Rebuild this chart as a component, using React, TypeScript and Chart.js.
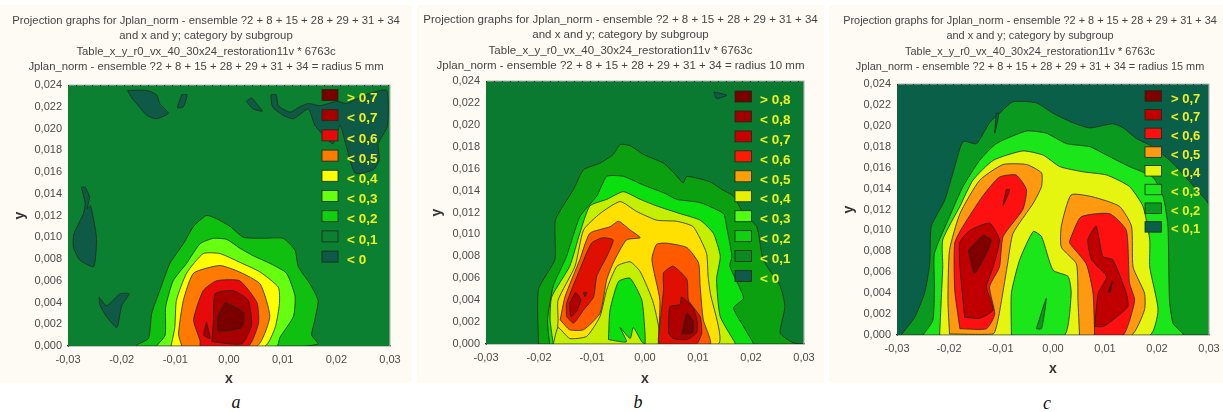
import React, { useEffect, useRef } from "react";
import { Chart, registerables } from "chart.js";

Chart.register(...registerables);

type Pair = number[];
// All contour vertices are [x, y], in thousandths of the axis unit.
const FULL: Pair[] = [[-30, 0], [30, 0], [30, 24], [-30, 24]];

// Panel a (radius 5 mm)
const A_NEG_1: Pair[] = [[-18.9,23.5],[-15.3,23.5],[-13.5,23.1],[-12.9,22.3],[-11.3,21.4],[-13.5,20.9],[-15.3,21.2],[-16.9,22.1],[-18.1,22.8]];
const A_NEG_2: Pair[] = [[-8.8,23.1],[-7.8,23.1],[-8.5,22.0],[-9.6,21.9]];
const A_NEG_3: Pair[] = [[3.2,22.5],[4.2,22.8],[5.1,22.3],[6.2,21.6],[4.5,21.8]];
const A_NEG_4: Pair[] = [[7.8,23.1],[8.8,23.1],[9.2,22.1],[11.4,21.5],[13.2,22],[14.8,22.3],[17,22.1],[20.1,22.5],[21.9,22.3],[26,23.2],[29.4,23.5],[29.5,20.2],[27.8,18.6],[28,17.1],[26.9,16.2],[23.5,15.9],[21.9,18.3],[20.7,20.3],[19.4,18.6],[18.5,18.9],[16,20.3],[14.8,21.8],[12,20.9],[10.1,21.2],[8.1,22]];
const A_NEG_5: Pair[] = [[-27.5,14.6],[-26.8,14.6],[-26,13.7],[-26.4,12.6],[-25.8,12.9],[-24.7,10],[-25.2,7.3],[-27.8,7.9],[-29,9.1],[-28.9,10.3],[-27.1,12.2],[-26.8,13.1]];
const A_NEG_6: Pair[] = [[-24.2,4.5],[-22.8,3.7],[-20.3,4.8],[-18.6,4.8],[-20,3.7],[-20.9,1.7],[-22.8,2.7],[-24,3.7]];
const A_L02: Pair[] = [[-17.2,0],[-17.2,0.1],[-15,0.7],[-14.4,3],[-12.9,5.1],[-11,7.6],[-8.5,9.4],[-6.6,11],[-4.2,12],[-2.3,11.7],[0.2,11],[2.7,10],[6.4,9.9],[10.1,9.9],[12.3,8.8],[12.9,7.3],[15.1,5.7],[16.6,4.2],[16,2.4],[15.4,1],[16.6,0.2],[14,0]];
const A_L03: Pair[] = [[-13.5,0],[-11.9,1],[-11.8,3.6],[-10.4,6],[-7.9,7.6],[-5.4,9.4],[-2.9,9.9],[-0.4,9.8],[2,9],[4.5,8.3],[7.6,7.6],[10.7,6.7],[12.3,4.6],[12,2.7],[9.5,0.8],[8.9,0]];
const A_L04: Pair[] = [[-10.8,0],[-10.1,1.7],[-9.8,4.2],[-7.9,6.7],[-4.8,8.5],[-1.7,8.5],[2,7.7],[5.8,6.8],[9.2,5.4],[9.4,3.9],[8.6,1.7],[6.7,0]];
const A_L05: Pair[] = [[-8.8,0],[-9.4,1.1],[-8.5,4.2],[-6.6,6.7],[-1.7,7.4],[2,6.8],[5.8,5.7],[7.6,2.7],[5.2,0]];
const A_L06: Pair[] = [[-5.4,0],[-5.4,0.5],[-6.6,2.4],[-4.8,5.1],[-2.3,6],[2,6],[5.2,4],[5.5,2.1],[3.6,0]];
const A_L07: Pair[] = [[-3.2,0.4],[-2.9,2.4],[-2.6,4.8],[0.8,5.1],[3.6,4.2],[4.2,1.9],[2.4,0.2]];
const A_L07B: Pair[] = [[-4.2,2.2],[-3.5,0.7],[-4.7,1]];
const A_L08: Pair[] = [[-0.7,4],[2.7,3.1],[2.4,1.7],[-2,1.4],[-2,2.8]];
const A_LEGEND_LABELS = ["> 0,7", "< 0,7", "< 0,6", "< 0,5", "< 0,4", "< 0,3", "< 0,2", "< 0,1", "< 0"];
const A_LEGEND_COLORS = ["#7a0000", "#a80000", "#e80a0a", "#ff7a00", "#ffff00", "#66ff10", "#10d010", "#0b8030", "#0f5a46"];

// Panel b (radius 10 mm)
const B_NEG_1: Pair[] = [[13,23],[15.4,22.7],[13.5,22.4]];
const B_L1: Pair[] = [[-20.1,0],[-20.1,5],[-17,7.7],[-16.9,11.3],[-13.5,14.1],[-11.6,15.9],[-8.5,16.5],[-6,17.3],[-4.7,18.2],[-2.8,18.1],[-0.3,17.3],[3.5,16.5],[5.3,15.7],[7.2,14.7],[7.9,15.3],[12.3,14.8],[14.5,14.1],[16.7,13.5],[18.6,11.9],[21.1,10.7],[22.3,7.7],[25.5,5.3],[26.4,3.4],[25.5,1],[28,0.1],[30,0]];
const B_L2: Pair[] = [[-18,0],[-18.4,2.2],[-17.3,5.3],[-14.8,8],[-12.3,11.6],[-9.1,13.5],[-7.2,15.3],[-4.1,15.3],[-0.3,14.5],[3.5,13.8],[6,13.2],[10.4,12.9],[14.8,11.9],[15.4,10.7],[16.4,8],[16,7.1],[18.6,4.2],[16.7,3.3],[18.6,1.6],[20.4,0.1],[20.4,0]];
const B_L3: Pair[] = [[-17.3,0],[-17.9,2.2],[-17.6,4.3],[-14.2,7.1],[-12.3,10.1],[-10.4,12.6],[-7.2,13.2],[-4.1,13.9],[-0.9,13.2],[2.2,12.6],[6.6,11.9],[10.4,11.3],[12.9,10.1],[14.2,8],[13.5,5.9],[14.2,2.5],[17,0.1],[17,0]];
const B_L4: Pair[] = [[-16.7,0],[-16.4,2.2],[-16.4,4],[-13.2,7.1],[-11.6,10.4],[-8.5,11.9],[-4.7,13],[-1.6,12.1],[2.2,11.3],[6,11.2],[9.1,10.7],[11.6,8.3],[11.9,6.2],[12.3,4.7],[13.8,0]];
const B_H3: Pair[] = [[-17.3,0],[-16.4,1.5],[-14.2,0.5],[-11,0.7],[-8.5,2.5],[-7.2,5],[-5.3,7.1],[-2.8,7.5],[-0.9,6.6],[1.6,3.7],[2.5,0]];
const B_H2: Pair[] = [[-6.9,0.4],[-6.6,3.1],[-5,5.7],[-2.8,6],[-0.6,4],[0,1],[0,0],[-0.6,0.2],[-2.2,1.5],[-2.8,0.5],[-4.7,1.5],[-3.5,0.2]];
const B_L5A: Pair[] = [[-16,2.2],[-15.1,4.3],[-12.3,7.7],[-10.4,10.1],[-6.6,10.7],[-5,11.2],[-2.8,10.4],[-0.9,9.7],[-3.5,9.5],[-6,7.4],[-7.2,5.9],[-8.5,2.8],[-11.6,1.3],[-14.2,1.3]];
const B_L5B: Pair[] = [[2.5,0],[2.8,4],[1.3,7.7],[2.2,9.1],[4.1,9.2],[7.9,8.8],[10.1,7.4],[10.4,5.3],[11,2.2],[12.3,0]];
const B_L6A: Pair[] = [[-14.8,2.5],[-14.8,3.7],[-12.3,6.8],[-10.1,9.2],[-8,9.7],[-6,9.5],[-7.2,8],[-9.1,6.2],[-9.7,4.3],[-11.6,3.1],[-13.5,1.9]];
const B_L6B: Pair[] = [[2.5,0.4],[3.5,5],[3.5,6.5],[5.3,7.1],[7.9,5.9],[8.2,4],[10.4,2.5],[10.7,1],[9.7,0],[2.8,0]];
const B_L7A: Pair[] = [[-14.2,3.7],[-13.1,4.7],[-12.1,4],[-12.9,3],[-14,2.5]];
const B_L7B: Pair[] = [[-11.6,4.7],[-11,4.7],[-11.3,4.3]];
const B_L7C: Pair[] = [[4.4,1],[4.7,3.4],[6.6,3.6],[6.9,4.3],[9.1,3.3],[9.9,1.9],[9.7,1],[7.9,0.4],[5.3,0.5]];
const B_L8: Pair[] = [[6.9,0.9],[7.9,2.8],[9.1,2.1],[9,1]];
const B_LEGEND_LABELS = ["> 0,8", "< 0,8", "< 0,7", "< 0,6", "< 0,5", "< 0,4", "< 0,3", "< 0,2", "< 0,1", "< 0"];
const B_LEGEND_COLORS = ["#7a0000", "#a00000", "#c80000", "#ff1a00", "#ffa000", "#e8f000", "#50ff10", "#10d010", "#0a8a20", "#0f5a4a"];

// Panel c (radius 15 mm)
const C_L1: Pair[] = [[-29.2,0],[-26.6,1.7],[-24.7,4],[-23.7,6.8],[-23.4,10.4],[-20.8,12.9],[-18.9,16.1],[-17.3,18.5],[-14.7,18.3],[-12.2,20.3],[-10.3,21.2],[-7.7,22.3],[-3.2,22.2],[0,21.2],[3.8,20.3],[7.1,19.8],[11.5,20.2],[13.5,19.8],[16,18.8],[19.2,18],[23.1,16.4],[27.6,13.9],[30,12.4],[30,0]];
const C_T1: Pair[] = [[-10.9,21.2],[-10.4,21.2],[-11.2,19.3]];
const C_L2: Pair[] = [[-25,0],[-23.1,1.4],[-22.8,4.6],[-22.8,7.8],[-19.9,11.3],[-17.3,14.2],[-14.1,16.7],[-10.9,18.3],[-5.1,19.5],[-1.3,19.3],[2.6,18.3],[7.1,18],[10.3,17.2],[14.7,16.1],[19.2,15.1],[21.2,13.2],[22.1,10.4],[22.4,3.3],[23.1,1.1],[25,0]];
const C_L3: Pair[] = [[-21.8,0],[-21.5,3.3],[-21.2,6.5],[-21.2,9.1],[-17.9,12.3],[-15.4,14.8],[-11.5,16.7],[-5.8,17.6],[-1.9,17.2],[1.3,16.1],[5.8,15.6],[10.3,15.3],[14.7,14.2],[17.3,12.3],[18.6,9.1],[18.6,6.5],[20.2,2.4],[18.6,0]];
const C_H2: Pair[] = [[-8,0],[-8,4],[-6.4,7.2],[-3.8,9.9],[-2.2,9.4],[0,6.2],[2.9,5.6],[3.5,4],[2.2,0]];
const C_H1: Pair[] = [[-3.2,0.6],[-1.3,3.5],[-2.2,0.6]];
const C_L4A: Pair[] = [[-19.9,0.1],[-20.2,3.3],[-19.9,8.1],[-17.9,11.6],[-14.1,14.8],[-9.6,16.3],[-5.1,16.3],[-2.2,15.5],[-2.2,14.2],[-3.8,12.6],[-7.7,9.7],[-8.7,6.9],[-9.9,3.3],[-10.6,1.4],[-11.5,0.1]];
const C_L4B: Pair[] = [[5.1,0],[4.8,3.3],[4.5,6.8],[1.6,8.4],[1.6,10.4],[3.5,13.4],[7.7,13.2],[12.8,12.3],[15.1,10.4],[15.4,6.5],[17.6,4],[17.6,2.4],[15.1,0]];
const C_L5A: Pair[] = [[-17.9,0.6],[-18.9,4.3],[-18.9,8.8],[-17.3,10.4],[-13.5,13.3],[-10.3,15.1],[-7.1,15.3],[-5.1,13.9],[-5.8,12],[-9.6,9.4],[-10.3,6.5],[-12.2,4.6],[-11.2,2],[-12.8,0.6]];
const C_L5B: Pair[] = [[8,0],[7.7,4],[6.4,6.8],[3.2,8.8],[3.5,9.4],[5.4,11.3],[10.9,11.6],[14.1,10],[14.7,5],[15.7,3.3],[13.5,0]];
const C_L6A: Pair[] = [[-17,1.7],[-17.9,6.5],[-17.9,8.9],[-16,10],[-12.2,10.7],[-10.3,9.1],[-11.5,6.5],[-12.8,4.6],[-11.5,2.4],[-14.1,1.6]];
const C_L6B: Pair[] = [[-9,13.9],[-8.3,13.9],[-9.6,12.4]];
const C_L6C: Pair[] = [[8,0.8],[8.7,4],[10.3,5.6],[7.4,7.2],[6.7,9.1],[8.3,10.4],[9.6,7.5],[11.5,7.2],[14.1,4],[14.4,2.7],[10.9,1.2],[9.6,0.8]];
const C_L7A: Pair[] = [[-16.3,8.1],[-13.5,9.5],[-11.9,9.1],[-12.8,7.8],[-15.1,5.9]];
const C_L7B: Pair[] = [[10.6,4.1],[11.4,5.1],[11,4.1]];
const C_LEGEND_LABELS = ["> 0,7", "< 0,7", "< 0,6", "< 0,5", "< 0,4", "< 0,3", "< 0,2", "< 0,1"];
const C_LEGEND_COLORS = ["#800000", "#c00000", "#ff1010", "#ff9a10", "#e6f510", "#1ae61a", "#0a9a20", "#0a5f48"];

const TITLE_LINE_1 = "Projection graphs for Jplan_norm - ensemble ?2 + 8 + 15 + 28 + 29 + 31 + 34";
const TITLE_LINE_2 = "and x and y; category by subgroup";
const TITLE_LINE_3 = "Table_x_y_r0_vx_40_30x24_restoration11v * 6763c";
const TITLE_A = "Jplan_norm - ensemble ?2 + 8 + 15 + 28 + 29 + 31 + 34 = radius 5 mm";
const TITLE_B = "Jplan_norm - ensemble ?2 + 8 + 15 + 28 + 29 + 31 + 34 = radius 10 mm";
const TITLE_C = "Jplan_norm - ensemble ?2 + 8 + 15 + 28 + 29 + 31 + 34 = radius 15 mm";

const PANELS = [
  {
    caption: "a", capX: 236, capY: 403,
    box: { l: 0, t: 5, w: 412, h: 378 },
    area: { l: 68, t: 85, r: 390, b: 346 },
    xTitleBottom: 0,
    title: TITLE_A, titleSize: 11.3, titleTop: 8,
    layers: [
      [FULL, "#0b8030"],
      [A_NEG_1, "#0f5a46"], [A_NEG_2, "#0f5a46"], [A_NEG_3, "#0f5a46"], [A_NEG_4, "#0f5a46"], [A_NEG_5, "#0f5a46"], [A_NEG_6, "#0f5a46"],
      [A_L02, "#10c010"], [A_L03, "#66ff10"], [A_L04, "#ffff00"], [A_L05, "#ff7a00"], [A_L06, "#e80a0a"],
      [A_L07, "#a80000"], [A_L07B, "#a80000"], [A_L08, "#7a0000"],
    ],
    legendLabels: A_LEGEND_LABELS, legendColors: A_LEGEND_COLORS,
    legend: { x: 322, y: 95, step: 20.2, w: 16, h: 11, textX: 347, textDy: 3.5, font: 13.5 },
  },
  {
    caption: "b", capX: 638, capY: 403,
    box: { l: 417, t: 5, w: 407, h: 378 },
    area: { l: 486, t: 81, r: 804, b: 344 },
    xTitleBottom: 0,
    title: TITLE_B, titleSize: 11.5, titleTop: 7,
    layers: [
      [FULL, "#0a7a30"], [B_NEG_1, "#0f5a4a"],
      [B_L1, "#0aa010"], [B_L2, "#0be00f"], [B_L3, "#c4f000"], [B_L4, "#ffe000"], [B_H3, "#c4f000"], [B_H2, "#0be00f"],
      [B_L5A, "#ff5a00"], [B_L5B, "#ff5a00"], [B_L6A, "#e01000"], [B_L6B, "#e01000"],
      [B_L7A, "#b00000"], [B_L7B, "#b00000"], [B_L7C, "#b00000"], [B_L8, "#7a0000"],
    ],
    legendLabels: B_LEGEND_LABELS, legendColors: B_LEGEND_COLORS,
    legend: { x: 735, y: 96.5, step: 19.95, w: 16.5, h: 11, textX: 760, textDy: 3.5, font: 13.5 },
  },
  {
    caption: "c", capX: 1047, capY: 404,
    box: { l: 829, t: 5, w: 402, h: 378 },
    area: { l: 897, t: 84, r: 1209, b: 335 },
    xTitleBottom: 10,
    title: TITLE_C, titleSize: 10.9, titleTop: 8,
    layers: [
      [FULL, "#0a5f48"], [C_L1, "#0a9a20"], [C_T1, "#0a5f48"], [C_L2, "#1ae61a"], [C_L3, "#e6f510"],
      [C_H2, "#1ae61a"], [C_H1, "#0a9a20"],
      [C_L4A, "#ff9a10"], [C_L4B, "#ff9a10"], [C_L5A, "#ff1010"], [C_L5B, "#ff1010"],
      [C_L6A, "#c00000"], [C_L6B, "#c00000"], [C_L6C, "#c00000"], [C_L7A, "#800000"], [C_L7B, "#800000"],
    ],
    legendLabels: C_LEGEND_LABELS, legendColors: C_LEGEND_COLORS,
    legend: { x: 1145, y: 96, step: 18.7, w: 16.5, h: 10.5, textX: 1171, textDy: 3, font: 13 },
  },
];

const FONT = '"Liberation Sans", Arial, sans-serif';
const toPoints = (poly: Pair[]) => [...poly, poly[0]].map(([x, y]) => ({ x: x / 1000, y: y / 1000 }));

function ContourPanel({ panel }: { panel: any }) {
  const ref = useRef<HTMLCanvasElement | null>(null);
  useEffect(() => {
    const { box, area, layers, legend, legendLabels, legendColors } = panel;
    const areaTop = area.t - box.t;
    const titleTop = panel.titleTop;
    const titleLine = 15.5;
    const rightGap = box.l + box.w - area.r;
    const frame = {
      id: "contourFrame",
      afterDatasetsDraw(chart: any) {
        const { ctx, chartArea: c } = chart;
        ctx.save();
        ctx.strokeStyle = "#b4b4b4";
        ctx.lineWidth = 1.2;
        ctx.beginPath();
        ctx.moveTo(c.left, c.top);
        ctx.lineTo(c.right, c.top);
        ctx.lineTo(c.right, c.bottom);
        ctx.stroke();
        ctx.strokeStyle = "#2a2a2a";
        ctx.setLineDash([1, 7]);
        ctx.beginPath();
        ctx.moveTo(c.left, c.top + 0.5);
        ctx.lineTo(c.right, c.top + 0.5);
        ctx.stroke();
        ctx.setLineDash([]);
        legendLabels.forEach((label: string, i: number) => {
          const x = legend.x - box.l;
          const y = legend.y - box.t + i * legend.step;
          ctx.fillStyle = legendColors[i];
          ctx.strokeStyle = "#1a2a1a";
          ctx.lineWidth = 0.8;
          ctx.fillRect(x, y - legend.h / 2, legend.w, legend.h);
          ctx.strokeRect(x, y - legend.h / 2, legend.w, legend.h);
          ctx.fillStyle = "#f0f020";
          ctx.font = `bold ${legend.font}px ${FONT}`;
          ctx.textBaseline = "middle";
          ctx.textAlign = "left";
          ctx.fillText(label, legend.textX - box.l, y + legend.textDy);
        });
        ctx.restore();
      },
    };
    const chart = new Chart(ref.current as HTMLCanvasElement, {
      type: "scatter",
      data: {
        datasets: layers.map(([poly, color]: any, i: number) => ({
          data: toPoints(poly),
          showLine: true,
          fill: "shape",
          backgroundColor: color,
          borderColor: i === 0 ? color : "#1c2a1c",
          borderWidth: 0.8,
          pointRadius: 0,
          tension: i === 0 ? 0 : 0.18,
          order: layers.length - i,
        })),
      },
      plugins: [frame],
      options: {
        responsive: false,
        animation: false,
        layout: { padding: 0 },
        plugins: {
          legend: { display: false },
          tooltip: { enabled: false },
          title: {
            display: true,
            text: [TITLE_LINE_1, TITLE_LINE_2, TITLE_LINE_3, panel.title],
            color: "#444444",
            font: { family: FONT, size: panel.titleSize, weight: "normal", lineHeight: titleLine / panel.titleSize },
            padding: { top: titleTop, bottom: areaTop - titleTop - 4 * titleLine },
          },
        },
        scales: {
          x: {
            type: "linear",
            min: -0.03,
            max: 0.03,
            afterFit: (s: any) => { s.height = box.t + box.h - area.b; },
            grid: { display: false, drawTicks: false },
            border: { color: "#222222", width: 1.2 },
            ticks: {
              stepSize: 0.01,
              padding: 7,
              maxRotation: 0,
              color: "#4a4a4a",
              font: { family: FONT, size: 11 },
              callback: (v: any) => Number(v).toFixed(2).replace(".", ","),
            },
            title: {
              display: true,
              text: "x",
              color: "#333333",
              font: { family: FONT, size: 14, weight: "bold", lineHeight: 0.62 },
              padding: { top: 0, bottom: panel.xTitleBottom },
            },
          },
          y: {
            type: "linear",
            min: 0,
            max: 0.024,
            afterFit: (s: any) => { s.width = area.l - box.l; },
            grid: { display: false, drawTicks: false },
            border: { color: "#555555" },
            ticks: {
              stepSize: 0.002,
              padding: 6,
              color: "#4a4a4a",
              font: { family: FONT, size: 11 },
              callback: (v: any) => Number(v).toFixed(3).replace(".", ","),
            },
            title: {
              display: true,
              text: "y",
              color: "#333333",
              font: { family: FONT, size: 14, weight: "bold", lineHeight: 1 },
              padding: { top: 13, bottom: 0 },
            },
          },
          // Empty axis that only reserves the margin right of the plot, so the title stays centred on the panel.
          gap: {
            type: "linear",
            position: "right",
            afterFit: (s: any) => { s.width = rightGap; },
            grid: { display: false, drawTicks: false },
            border: { display: false },
            ticks: { display: false },
          },
        },
      },
    } as any);
    return () => chart.destroy();
  }, [panel]);
  const { box } = panel;
  return (
    <canvas
      ref={ref}
      width={box.w}
      height={box.h}
      style={{ position: "absolute", left: box.l, top: box.t, width: box.w, height: box.h, background: "#fdfbf3", filter: "blur(0.6px)" }}
    />
  );
}

export default function App() {
  return (
    <div style={{ position: "absolute", left: 0, top: 0, width: 1223, height: 412, overflow: "hidden", background: "#ffffff" }}>
      {PANELS.map((p) => <ContourPanel key={p.caption} panel={p} />)}
      {PANELS.map((p) => (
        <div
          key={p.caption + "-cap"}
          style={{ position: "absolute", left: p.capX - 10, width: 20, top: p.capY - 12, height: 22, lineHeight: "22px", textAlign: "center", fontFamily: '"Liberation Serif", serif', fontStyle: "italic", fontSize: 18, color: "#111" }}
        >
          {p.caption}
        </div>
      ))}
    </div>
  );
}
